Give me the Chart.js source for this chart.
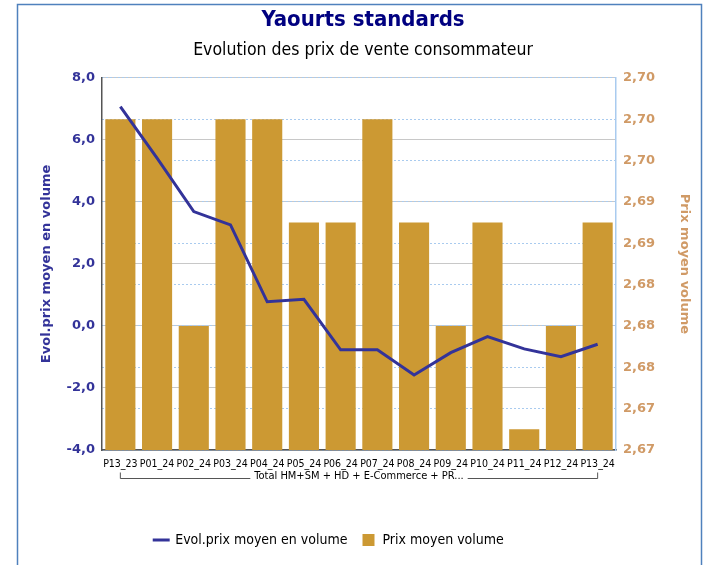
<!DOCTYPE html>
<html>
<head>
<meta charset="utf-8">
<script src="https://cdn.jsdelivr.net/npm/chart.js@4/dist/chart.umd.min.js"></script>
<style>
  html, body { margin: 0; padding: 0; background: #ffffff; }
  #wrap { width: 706px; height: 565px; }
</style>
</head>
<body>
<div id="wrap"><canvas id="prixChart" width="706" height="565"></canvas></div>
<script>
// Données du graphique
const categories = ['P13_23', 'P01_24', 'P02_24', 'P03_24', 'P04_24', 'P05_24', 'P06_24',
                    'P07_24', 'P08_24', 'P09_24', 'P10_24', 'P11_24', 'P12_24', 'P13_24'];
const evolPrix = [7.07, 5.41, 3.69, 3.26, 0.78, 0.86, -0.77, -0.77, -1.58, -0.86, -0.34, -0.74, -0.99, -0.59];
const prixMoyen = [2.70, 2.70, 2.68, 2.70, 2.70, 2.69, 2.69, 2.70, 2.69, 2.68, 2.69, 2.67, 2.68, 2.69];
const groupLabel = 'Total HM+SM + HD + E-Commerce + PR...';

const evolMin = -4, evolMax = 8, evolStep = 2;
const prixMin = 2.668, prixMax = 2.704, prixStep = 0.004;

const fmt = (v, d) => Number(v).toFixed(d).replace('.', ',');
const FONT = '"DejaVu Sans Condensed", "DejaVu Sans", sans-serif';

// Cadre bleu autour du graphique
const framePlugin = {
    id: 'frame',
    beforeDraw(chart) {
        const ctx = chart.ctx;
        ctx.save();
        ctx.fillStyle = '#ffffff';
        ctx.fillRect(0, 0, chart.width, chart.height);
        ctx.strokeStyle = '#4f81bd';
        ctx.lineWidth = 1.5;
        ctx.strokeRect(17.5, 4.5, 684, 600);
        ctx.restore();
    },
    // décaler la légende vers la gauche comme dans l'original
    afterLayout(chart) {
        if (chart.legend) {
            chart.legend.left -= 34;
            chart.legend.right -= 34;
        }
    }
};

// Libellé de groupe sous l'axe des catégories
const groupPlugin = {
    id: 'groupLabel',
    afterDraw(chart) {
        const ctx = chart.ctx;
        const xs = chart.scales.x;
        const x0 = xs.getPixelForValue(0);
        const x1 = xs.getPixelForValue(categories.length - 1);
        const y = chart.chartArea.bottom + 28.5;
        const cx = (x0 + x1) / 2;
        ctx.save();
        ctx.font = '11px ' + FONT;
        const tw = ctx.measureText(groupLabel).width;
        ctx.strokeStyle = '#555555';
        ctx.lineWidth = 1;
        ctx.beginPath();
        ctx.moveTo(x0, y - 6);
        ctx.lineTo(x0, y);
        ctx.lineTo(cx - tw / 2 - 4, y);
        ctx.moveTo(cx + tw / 2 + 4, y);
        ctx.lineTo(x1, y);
        ctx.lineTo(x1, y - 6);
        ctx.stroke();
        ctx.fillStyle = '#000000';
        ctx.textAlign = 'center';
        ctx.textBaseline = 'middle';
        ctx.fillText(groupLabel, cx, y - 2);
        ctx.restore();
    }
};

const ctx = document.getElementById('prixChart').getContext('2d');
new Chart(ctx, {
    data: {
        labels: categories,
        datasets: [{
            type: 'line',
            label: 'Evol.prix moyen en volume',
            data: evolPrix,
            yAxisID: 'y',
            borderColor: '#333399',
            backgroundColor: '#333399',
            borderWidth: 3,
            pointRadius: 0,
            pointStyle: 'line',
            tension: 0,
            order: 0
        }, {
            type: 'bar',
            label: 'Prix moyen volume',
            data: prixMoyen,
            yAxisID: 'y1',
            backgroundColor: '#cc9933',
            borderWidth: 0,
            pointStyle: 'rect',
            categoryPercentage: 1,
            barPercentage: 0.82,
            order: 1
        }]
    },
    options: {
        responsive: false,
        animation: false,
        layout: { padding: { left: 20, right: 0, top: 0, bottom: 8 } },
        plugins: {
            title: {
                display: true,
                text: 'Yaourts standards',
                color: '#000080',
                font: { family: FONT, size: 22, weight: 'bold' },
                padding: { top: 7, bottom: 3 }
            },
            subtitle: {
                display: true,
                text: 'Evolution des prix de vente consommateur',
                color: '#000000',
                font: { family: FONT, size: 17.5 },
                padding: { top: 3.5, bottom: 17 }
            },
            legend: {
                position: 'bottom',
                labels: {
                    usePointStyle: true,
                    boxHeight: 12,
                    padding: 14,
                    color: '#000000',
                    font: { family: FONT, size: 14 }
                }
            },
            tooltip: { enabled: false }
        },
        scales: {
            x: {
                grid: { display: false, drawTicks: false },
                border: { color: '#555555', width: 1.5 },
                ticks: {
                    autoSkip: false,
                    maxRotation: 0,
                    minRotation: 0,
                    padding: 8,
                    color: '#000000',
                    font: { family: FONT, size: 10.5 }
                },
                afterFit(scale) { scale.height = 69; }
            },
            y: {
                position: 'left',
                min: evolMin,
                max: evolMax,
                grid: { color: '#c8c8c8', drawTicks: false },
                border: { color: '#555555', width: 1.5 },
                ticks: {
                    stepSize: evolStep,
                    padding: 7,
                    color: '#333399',
                    font: { family: '"DejaVu Sans", sans-serif', size: 13, weight: 'bold' },
                    callback: v => fmt(v, 1)
                },
                title: {
                    display: true,
                    text: 'Evol.prix moyen en volume',
                    color: '#333399',
                    font: { family: '"DejaVu Sans", sans-serif', size: 13, weight: 'bold' },
                    padding: { top: 19, bottom: 0 }
                },
                afterFit(scale) { scale.width = 82; }
            },
            y1: {
                position: 'right',
                min: prixMin,
                max: prixMax,
                grid: { color: '#a9cbef', drawTicks: false },
                border: { color: '#a9cbef', width: 1.5, dash: [2, 2] },
                ticks: {
                    stepSize: prixStep,
                    padding: 7,
                    color: '#d09a66',
                    font: { family: '"DejaVu Sans", sans-serif', size: 13, weight: 'bold' },
                    callback: v => fmt(v, 2)
                },
                title: {
                    display: true,
                    text: 'Prix moyen volume',
                    color: '#d09a66',
                    font: { family: '"DejaVu Sans", sans-serif', size: 13, weight: 'bold' },
                    padding: { top: 14, bottom: 0 }
                },
                afterFit(scale) { scale.width = 90; }
            }
        }
    },
    plugins: [framePlugin, groupPlugin]
});
</script>
</body>
</html>
